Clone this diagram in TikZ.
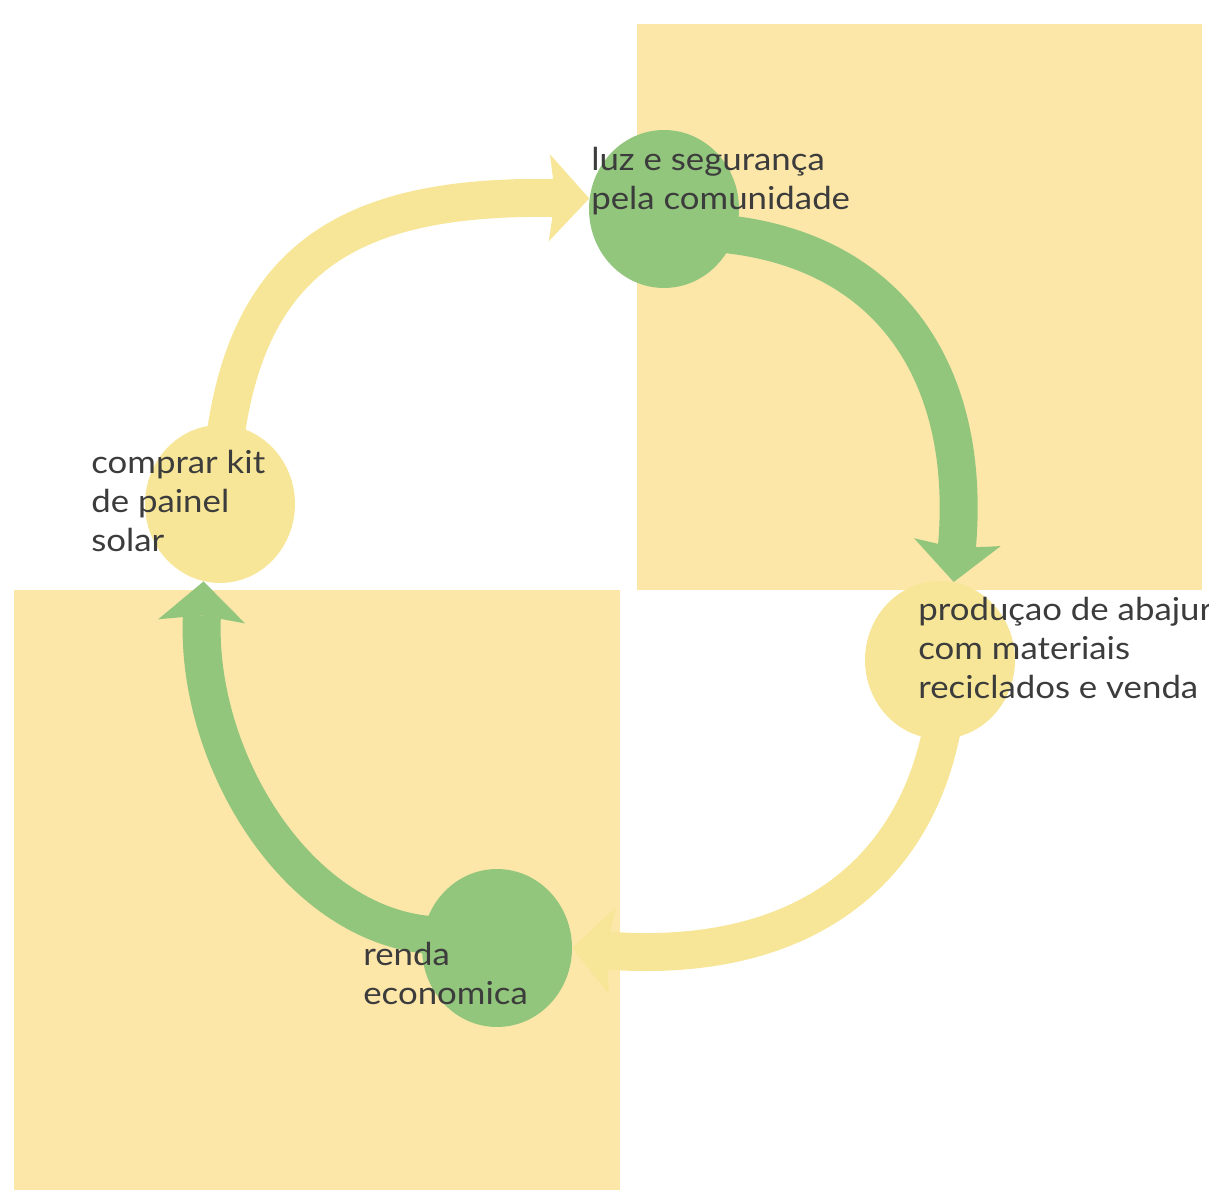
\documentclass[tikz,border=0pt]{standalone}
\usepackage{fontspec}
\setmainfont[FakeStretch=1.1]{Lato}
\usetikzlibrary{arrows.meta,shapes.geometric}
\definecolor{paleyellow}{HTML}{FCE7A9}
\definecolor{cycleyellow}{HTML}{F7E697}
\definecolor{cyclegreen}{HTML}{92C67C}
\definecolor{textgray}{HTML}{3C3C3C}
\tikzset{
  stage/.style={ellipse,minimum width=3.0cm,minimum height=3.16cm,inner sep=0pt},
  flow/.style={line width=0.76cm,shorten <=-0.3cm,
    -{Stealth[length=0.8cm,width=1.74cm,inset=0.12cm,line width=0pt]}},
  stagetext/.style={anchor=north west,inner sep=0pt,align=left,text=textgray,
    font=\fontsize{18}{22.2}\selectfont}
}

\begin{document}
\begin{tikzpicture}[x=0.02cm,y=0.02cm]
	\useasboundingbox (0,0) rectangle (1209,1190);
	
	% Background
	\fill[paleyellow] (637,600) rectangle (1202,1166);
	\fill[paleyellow] (14,0) rectangle (620,600);
	
	% Circles
	\node[stage,fill=cyclegreen] (tc) at (664,981) {};
	\node[stage,fill=cycleyellow] (lc) at (220,686) {};
	\node[stage,fill=cycleyellow] (rc) at (940,530) {};
	\node[stage,fill=cyclegreen] (bc) at (497,242) {};
	
	% Arrows
	\draw[flow,cycleyellow] (lc.85) .. controls (250,940) and (360,995) .. (tc.172);
	\draw[flow,cyclegreen] (tc.-20) .. controls (895,940) and (972,810) .. (rc.80);
	\draw[flow,cycleyellow] (rc.south) .. controls (915,315) and (800,225) .. (bc.east);
	\draw[flow,cyclegreen] (bc.170) .. controls (300,260) and (195,430) .. (lc.258);
	
	% Labels
	\node[stagetext] (ttc) at (591,1043) {luz e segurança\\pela comunidade};
	\node[stagetext] (tlc) at (91,740) {comprar kit\\de painel\\solar};
	\node[stagetext] (trc) at (918,593) {produçao de abajur\\com materiais\\reciclados e venda};
	\node[stagetext] (tbc) at (363,248) {renda\\economica};
\end{tikzpicture}
\end{document}
